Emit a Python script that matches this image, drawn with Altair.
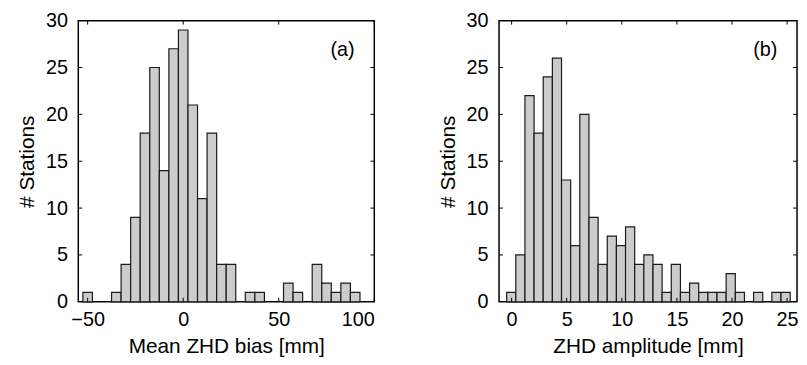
import altair as alt
import pandas as pd

# ---- data ----
a_bin_start = -52.5
a_bin_width = 5.0
a_counts = [1, 0, 0, 1, 4, 9, 18, 25, 14, 27, 29, 21, 11, 18, 4,
            4, 0, 1, 1, 0, 0, 2, 1, 0, 4, 2, 1, 2, 1]
a_xticks = [-50, 0, 50, 100]
a_domain = [-54.9, 100]

b_bin_start = -0.45
b_bin_width = 0.83
b_counts = [1, 5, 22, 18, 24, 26, 13, 6, 20, 9, 4, 7, 6, 8, 4, 5,
            4, 1, 4, 1, 2, 1, 1, 1, 3, 1, 0, 1, 0, 1, 1]
b_xticks = [0, 5, 10, 15, 20, 25]
b_domain = [-1.14, 25.9]

y_ticks = [0, 5, 10, 15, 20, 25, 30]

FONT = "Liberation Sans"
H = 284
TL = 4  # inward tick length


def panel(counts, start, width, xticks, domain, xtitle, tag, w):
    df = pd.DataFrame({
        "lo": [start + i * width for i in range(len(counts))],
        "hi": [start + (i + 1) * width for i in range(len(counts))],
        "n": counts,
    })
    df = df[df["n"] > 0]
    xs = alt.Scale(domain=domain, nice=False, zero=False)
    ys = alt.Scale(domain=[0, 30], nice=False)
    bars = alt.Chart(df).mark_rect(fill="#cccccc", stroke="#1a1a1a", strokeWidth=1.2).encode(
        x=alt.X("lo:Q", scale=xs, title=xtitle,
                axis=alt.Axis(values=xticks, ticks=False, domain=False, grid=False,
                              labelPadding=8, titlePadding=6)),
        x2="hi:Q",
        y=alt.Y("n:Q", scale=ys, title="# Stations",
                axis=alt.Axis(values=y_ticks, ticks=False, domain=False, grid=False,
                              labelPadding=11, titlePadding=8)),
        y2=alt.datum(0),
    )
    xt = pd.DataFrame({"v": xticks})
    yt = pd.DataFrame({"v": y_ticks[1:-1]})
    tb = alt.Chart(xt).mark_rule(color="black", strokeWidth=1).encode(
        x=alt.X("v:Q", scale=xs), y=alt.value(H), y2=alt.value(H - TL))
    tt = alt.Chart(xt).mark_rule(color="black", strokeWidth=1).encode(
        x=alt.X("v:Q", scale=xs), y=alt.value(0), y2=alt.value(TL))
    tl = alt.Chart(yt).mark_rule(color="black", strokeWidth=1).encode(
        y=alt.Y("v:Q", scale=ys), x=alt.value(0), x2=alt.value(TL))
    tr = alt.Chart(yt).mark_rule(color="black", strokeWidth=1).encode(
        y=alt.Y("v:Q", scale=ys), x=alt.value(w - TL), x2=alt.value(w))
    lab = alt.Chart(pd.DataFrame({"t": [tag]})).mark_text(
        font=FONT, fontSize=20, color="black", align="center", baseline="middle"
    ).encode(text="t:N", x=alt.value(w - 32), y=alt.value(30))
    return alt.layer(bars, tb, tt, tl, tr, lab).properties(width=w, height=H)


pa = panel(a_counts, a_bin_start, a_bin_width, a_xticks, a_domain,
           "Mean ZHD bias [mm]", "(a)", 299)
pb = panel(b_counts, b_bin_start, b_bin_width, b_xticks, b_domain,
           "ZHD amplitude [mm]", "(b)", 301)

chart = alt.hconcat(pa, pb, spacing=126, bounds="flush").properties(
    padding={"left": 8, "top": 0, "right": 0, "bottom": 0}
).configure_view(
    stroke="black", strokeWidth=1.5
).configure_axis(
    labelFont=FONT, titleFont=FONT, labelFontSize=20, titleFontSize=21,
    titleFontWeight="normal", labelColor="black", titleColor="black"
)

chart.save("out.html", embed_options={"renderer": "svg", "actions": False})
